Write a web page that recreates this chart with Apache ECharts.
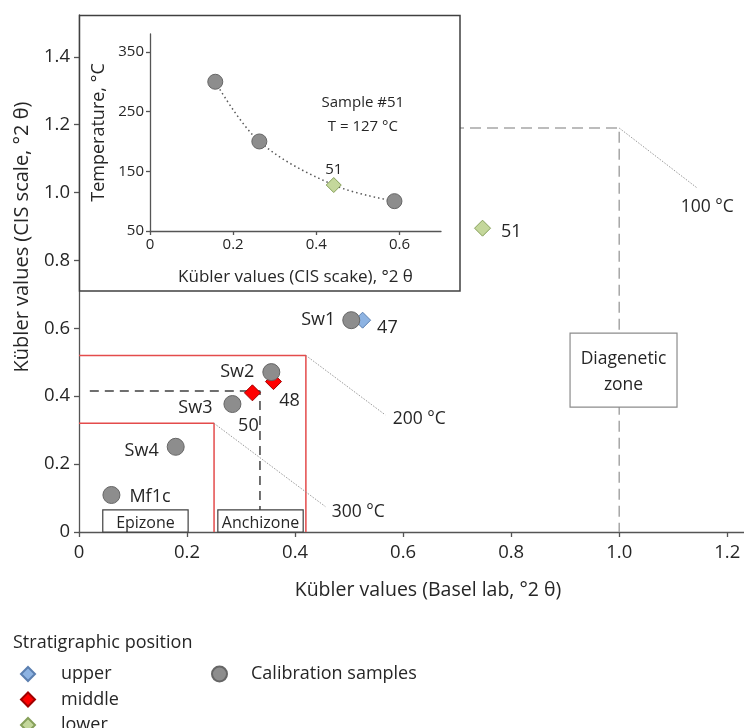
<!DOCTYPE html>
<html>
<head>
<meta charset="utf-8">
<script src="https://cdn.jsdelivr.net/npm/echarts@6/dist/echarts.min.js"></script>
<style>
html,body{margin:0;padding:0;background:#fff;}
#chart{width:744px;height:728px;}
</style>
</head>
<body>
<div id="chart"></div>
<script>
// ---------------- data ----------------
const calibNames = ['Sw1', 'Sw2', 'Sw3', 'Sw4', 'Mf1c'];
const calibX = [0.504, 0.356, 0.284, 0.179, 0.060];
const calibY = [0.624, 0.471, 0.377, 0.251, 0.109];

const sampleIds = ['47', '48', '50', '51'];
const sampleX = [0.525, 0.360, 0.321, 0.747];
const sampleY = [0.624, 0.443, 0.410, 0.895];
const samplePos = ['upper', 'middle', 'middle', 'lower'];

const zone100 = [[0, 1.19], [1.0, 1.19], [1.0, 0]];
const zone200 = [[0, 0.52], [0.42, 0.52], [0.42, 0]];
const zone300 = [[0, 0.32], [0.25, 0.32], [0.25, 0]];
const guide50 = [[0.02, 0.415], [0.335, 0.415], [0.335, 0.065]];

const tempLabels = ['100 °C', '200 °C', '300 °C'];
const leaderStart = [[1.0, 1.19], [0.42, 0.52], [0.25, 0.32]];
const leaderEnd = [[1.143, 1.015], [0.567, 0.345], [0.456, 0.075]];
const tempLabelAt = [[1.163, 0.957], [0.630, 0.333], [0.517, 0.059]];

const boxNames = ['Epizone', 'Anchizone', 'Diagenetic\nzone'];
const boxX0 = [0.044, 0.257, 0.909];
const boxX1 = [0.202, 0.415, 1.107];
const boxY0 = [0, 0, 0.368];
const boxY1 = [0.065, 0.065, 0.586];

const mainXTicks = [0, 0.2, 0.4, 0.6, 0.8, 1.0, 1.2];
const mainYTicks = [0, 0.2, 0.4, 0.6, 0.8, 1.0, 1.2, 1.4];

const insetCalibX = [0.157, 0.263, 0.588];
const insetCalibT = [300, 200, 100];
const insetSampleId = '51';
const insetSampleX = 0.442;
const insetSampleT = 127;
const insetXTicks = [0, 0.2, 0.4, 0.6];
const insetYTicks = [50, 150, 250, 350];
const insetNote = 'Sample #51\nT = 127 °C';
const insetNoteAt = [0.512, 245];

// ---------------- styles ----------------
const FONT = 'Open Sans';
const TXT = '#262626';
const AX = '#555';
const colors = {
  upper: { color: '#8db3e2', borderColor: '#5b7fb0' },
  middle: { color: '#ff0000', borderColor: '#a00000' },
  lower: { color: '#c4d79b', borderColor: '#86a05a' },
  calib: { color: '#8d8d8d', borderColor: '#666' }
};
const calibLabelCfg = {
  Sw1: { position: 'left', distance: 7 },
  Sw2: { position: 'left', distance: 8 },
  Sw3: { position: 'left', distance: 11, offset: [0, 4] },
  Sw4: { position: 'left', distance: 8, offset: [0, 4] },
  Mf1c: { position: 'right', distance: 9, offset: [0, 2] }
};
const sampleLabelCfg = {
  '47': { position: 'right', distance: 6, offset: [0, 8] },
  '48': { position: 'bottom', distance: 2, offset: [16, 0] },
  '50': { position: 'bottom', distance: 16, offset: [-4, 0] },
  '51': { position: 'right', distance: 10, offset: [0, 4] }
};
const fmt1 = v => (v === 0 ? '0' : v.toFixed(1));

// ---------------- series ----------------
const series = [];
function polyline(data, style, z) {
  series.push({
    type: 'line', xAxisIndex: 0, yAxisIndex: 0, data: data, symbol: 'none',
    lineStyle: style, z: z, silent: true, animation: false
  });
}
polyline(zone100, { color: '#a6a6a6', width: 1.5, type: [11, 6] }, 2);
polyline(zone200, { color: '#e44b4b', width: 1.5 }, 2);
polyline(zone300, { color: '#e44b4b', width: 1.5 }, 2);
polyline(guide50, { color: '#404040', width: 1.5, type: [9, 6] }, 2);
leaderStart.forEach((s, i) => {
  polyline([s, leaderEnd[i]], { color: '#9a9a9a', width: 1, type: [1.5, 1.5] }, 2);
});
// temperature labels
series.push({
  type: 'scatter', xAxisIndex: 0, yAxisIndex: 0, symbolSize: 0, z: 3, silent: true,
  itemStyle: { color: TXT, opacity: 1 },
  data: tempLabels.map((t, i) => ({ name: t, value: tempLabelAt[i] })),
  label: { show: true, position: 'inside', formatter: p => p.name, fontSize: 17.5, color: TXT,
           textBorderWidth: 0, fontFamily: FONT }
});
// zone boxes
series.push({
  type: 'custom', xAxisIndex: 0, yAxisIndex: 0, z: 4, silent: true,
  data: boxNames.map((n, i) => [boxX0[i], boxY0[i], boxX1[i], boxY1[i]]),
  encode: { x: [0, 2], y: [1, 3] },
  renderItem: function (params, api) {
    const i = params.dataIndex;
    const a = api.coord([api.value(0), api.value(3)]);
    const b = api.coord([api.value(2), api.value(1)]);
    const diag = i === 2;
    return {
      type: 'group',
      children: [
        { type: 'rect', shape: { x: a[0], y: a[1], width: b[0] - a[0], height: b[1] - a[1] },
          style: { fill: '#fff', stroke: diag ? '#8c8c8c' : '#404040', lineWidth: 1.2 } },
        { type: 'text', x: (a[0] + b[0]) / 2, y: (a[1] + b[1]) / 2 + 2,
          style: { text: boxNames[i], fill: TXT, font: (diag ? 17.5 : 16) + 'px "' + FONT + '"',
                   align: 'center', verticalAlign: 'middle', lineHeight: diag ? 26 : 18 } }
      ]
    };
  }
});
// stratigraphic samples (main)
['upper', 'middle', 'lower'].forEach(pos => {
  const data = [];
  sampleIds.forEach((id, i) => {
    if (samplePos[i] !== pos) return;
    data.push({ name: id, value: [sampleX[i], sampleY[i]], label: sampleLabelCfg[id] });
  });
  series.push({
    name: pos, type: 'scatter', xAxisIndex: 0, yAxisIndex: 0, symbol: 'diamond', symbolSize: 16, z: 5,
    itemStyle: Object.assign({ borderWidth: 1, opacity: 1 }, colors[pos]),
    label: { show: true, formatter: p => p.name, fontSize: 18, color: TXT, fontFamily: FONT },
    data: data
  });
});
// calibration samples (main)
series.push({
  name: 'Calibration samples', type: 'scatter', xAxisIndex: 0, yAxisIndex: 0, symbol: 'circle', symbolSize: 17, z: 6,
  itemStyle: Object.assign({ borderWidth: 1, opacity: 1 }, colors.calib),
  label: { show: true, formatter: p => p.name, fontSize: 18, color: TXT, fontFamily: FONT },
  data: calibNames.map((n, i) => ({ name: n, value: [calibX[i], calibY[i]], label: calibLabelCfg[n] }))
});

// ---------------- inset ----------------
const curve = insetCalibX.map((x, i) => [x, insetCalibT[i]]).concat([[insetSampleX, insetSampleT]])
  .sort((a, b) => a[0] - b[0]);
series.push({
  type: 'line', xAxisIndex: 1, yAxisIndex: 1, data: curve, symbol: 'none', smooth: 0.35, z: 31, silent: true,
  lineStyle: { color: '#595959', width: 1.5, type: [1.5, 3] }
});
series.push({
  name: 'Calibration samples', type: 'scatter', xAxisIndex: 1, yAxisIndex: 1, symbol: 'circle', symbolSize: 15, z: 32,
  itemStyle: Object.assign({ borderWidth: 1, opacity: 1 }, colors.calib),
  data: insetCalibX.map((x, i) => [x, insetCalibT[i]])
});
series.push({
  name: 'lower', type: 'scatter', xAxisIndex: 1, yAxisIndex: 1, symbol: 'diamond', symbolSize: 15, z: 32,
  itemStyle: Object.assign({ borderWidth: 1, opacity: 1 }, colors.lower),
  label: { show: true, position: 'top', distance: 0, formatter: insetSampleId, fontSize: 15, color: TXT, fontFamily: FONT },
  data: [[insetSampleX, insetSampleT]]
});
series.push({
  type: 'scatter', xAxisIndex: 1, yAxisIndex: 1, symbolSize: 0, z: 32, silent: true,
  itemStyle: { color: TXT, opacity: 1 },
  data: [insetNoteAt],
  label: { show: true, position: 'inside', formatter: insetNote, fontSize: 15, lineHeight: 24, color: TXT,
           textBorderWidth: 0, fontFamily: FONT }
});

const axisCommon = {
  type: 'value',
  splitLine: { show: false },
  axisLine: { show: true, onZero: false, lineStyle: { color: AX, width: 1.3 } },
  nameTextStyle: { color: TXT, fontFamily: FONT }
};

const option = {
  animation: false,
  backgroundColor: '#fff',
  textStyle: { fontFamily: FONT },
  grid: [
    { left: 79, right: 0, top: 15, bottom: 196 },
    { left: 150, top: 34, width: 291, height: 197, z: 30 }
  ],
  xAxis: [
    Object.assign({}, axisCommon, {
      gridIndex: 0, min: 0, max: 1.231, interval: 0.2,
      axisTick: { show: true, length: 5, customValues: mainXTicks, lineStyle: { color: AX, width: 1.3 } },
      axisLabel: { customValues: mainXTicks, formatter: fmt1, fontSize: 18.5, color: TXT, margin: 11, fontFamily: FONT }
    }),
    Object.assign({}, axisCommon, {
      gridIndex: 1, min: 0, max: 0.7, interval: 0.2, z: 30,
      name: 'Kübler values (CIS scake), °2 θ', nameLocation: 'middle', nameGap: 38,
      nameTextStyle: { color: TXT, fontFamily: FONT, fontSize: 17 },
      axisTick: { show: true, length: 4, customValues: insetXTicks, lineStyle: { color: AX, width: 1.3 } },
      axisLabel: { customValues: insetXTicks, formatter: fmt1, fontSize: 15, color: TXT, margin: 6, fontFamily: FONT }
    })
  ],
  yAxis: [
    Object.assign({}, axisCommon, {
      gridIndex: 0, min: 0, max: 1.523, interval: 0.2,
      axisTick: { show: true, length: 5, customValues: mainYTicks, lineStyle: { color: AX, width: 1.3 } },
      axisLabel: { customValues: mainYTicks, formatter: fmt1, fontSize: 18.5, color: TXT, margin: 9, fontFamily: FONT }
    }),
    Object.assign({}, axisCommon, {
      gridIndex: 1, min: 50, max: 380, interval: 100, z: 30,
      name: 'Temperature, °C', nameLocation: 'middle', nameGap: 42,
      nameTextStyle: { color: TXT, fontFamily: FONT, fontSize: 18 },
      axisTick: { show: true, length: 4, customValues: insetYTicks, lineStyle: { color: AX, width: 1.3 } },
      axisLabel: { customValues: insetYTicks, fontSize: 15, color: TXT, margin: 6, fontFamily: FONT }
    })
  ],
  legend: [
    {
      data: ['upper', 'middle', 'lower'], orient: 'vertical', left: 20, top: 665, height: 100, padding: 0,
      itemWidth: 14, itemHeight: 14, itemGap: 7.5, selectedMode: false,
      textStyle: { fontSize: 18, color: TXT, fontFamily: FONT, lineHeight: 18, padding: [0, 0, 0, 21] }
    },
    {
      data: ['Calibration samples'], left: 211, top: 665, padding: 0,
      itemWidth: 15, itemHeight: 15, selectedMode: false,
      textStyle: { fontSize: 18, color: TXT, fontFamily: FONT, lineHeight: 18, padding: [0, 0, 0, 19] }
    }
  ],
  graphic: [
    { type: 'rect', z: 20, silent: true, shape: { x: 79.5, y: 15.5, width: 380.5, height: 275.5 },
      style: { fill: '#fff', stroke: '#404040', lineWidth: 1.5 } },
    { type: 'text', z: 40, x: 22, y: 237, rotation: Math.PI / 2, silent: true,
      style: { text: 'Kübler values (CIS scale, °2 θ)', font: '20px "' + FONT + '"', fill: TXT, align: 'center', verticalAlign: 'middle' } },
    { type: 'text', z: 40, x: 428, y: 590, silent: true,
      style: { text: 'Kübler values (Basel lab, °2 θ)', font: '19.5px "' + FONT + '"', fill: TXT, align: 'center', verticalAlign: 'middle' } },
    { type: 'text', z: 40, x: 13, y: 643, silent: true,
      style: { text: 'Stratigraphic position', font: '18px "' + FONT + '"', fill: TXT, align: 'left', verticalAlign: 'middle' } }
  ],
  series: series
};

const chart = echarts.init(document.getElementById('chart'), null, { renderer: 'canvas' });
chart.setOption(option);
</script>
</body>
</html>
